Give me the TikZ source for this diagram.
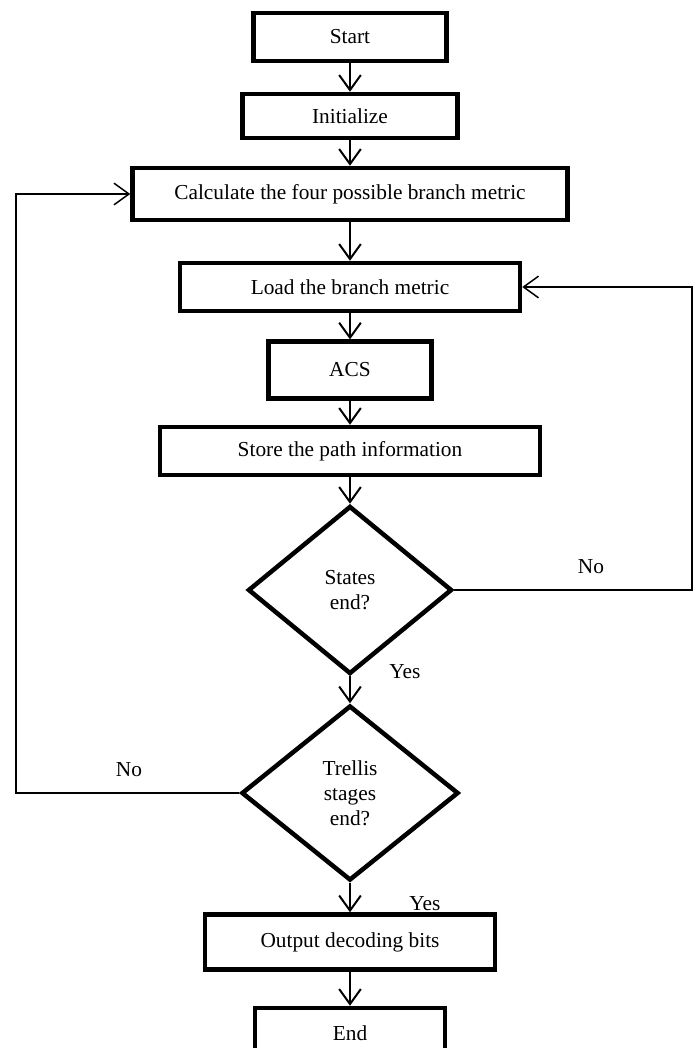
\documentclass[tikz,border=0pt]{standalone}
\usepackage{fontspec}
\setmainfont{Liberation Serif}
\usepackage{tikz}
\usetikzlibrary{positioning}
\usetikzlibrary{shapes,shapes.geometric,arrows.meta}
\tikzstyle{novertex} = [draw=none, fill=none, text centered, font=\fontsize{12.8}{15}\selectfont]
\tikzstyle{process}  = [rectangle, draw, line width=2.7pt, text centered, inner sep=0pt, font=\fontsize{12.8}{15}\selectfont]
\tikzstyle{decision} = [diamond, draw, line width=2.7pt, align=center, inner sep=0pt, font=\fontsize{12.8}{15}\selectfont]
\tikzstyle{flow}  = [draw, line width=1.2pt, ->]
\tikzstyle{loop}  = [draw, line width=0.9pt, ->]

\begin{document}
\begin{tikzpicture}[>={Straight Barb[length=9pt,width=13pt]}]
	\useasboundingbox (-210pt,22.2pt) rectangle (206.4pt,-606.6pt);

	% place nodes
	\node [process, minimum width=116pt, minimum height=29pt]                                  (N0) {Start};
	\node [process, below of=N0, node distance=47.4pt, minimum width=129pt, minimum height=26.4pt] (N1) {Initialize};
	\node [process, below of=N1, node distance=46.8pt, minimum width=261pt, minimum height=31.2pt] (N2) {Calculate the four possible branch metric};
	\node [process, below of=N2, node distance=55.8pt, minimum width=204pt, minimum height=28.8pt] (N3) {Load the branch metric};
	\node [process, below of=N3, node distance=49.8pt, minimum width=98pt, minimum height=34pt]    (N4) {ACS};
	\node [process, below of=N4, node distance=48.6pt, minimum width=228pt, minimum height=28.8pt] (N5) {Store the path information};
	\node [decision, below of=N5, node distance=83.4pt, minimum width=122.4pt, minimum height=100.8pt] (N6) {States\\end?};
	\node [decision, below of=N6, node distance=121.8pt, minimum width=130.2pt, minimum height=105pt]  (N7) {Trellis\\stages\\end?};
	\node [process, below of=N7, node distance=89.4pt, minimum width=174pt, minimum height=33pt]   (N8) {Output decoding bits};
	\node [process, below of=N8, node distance=54.6pt, minimum width=114pt, minimum height=30pt]   (N9) {End};

	% loop corners
	\coordinate (R) at (205.2pt,0);
	\coordinate (L) at (-200.4pt,0);

	% labels
	\node [novertex] (no1)  at ([xshift=144.6pt, yshift=13.8pt]N6.center) {No};
	\node [novertex] (yes1) at ([xshift=33pt, yshift=3pt]N6.south)        {Yes};
	\node [novertex] (no2)  at ([xshift=-132.6pt, yshift=13.8pt]N7.center) {No};
	\node [novertex] (yes2) at ([xshift=45pt, yshift=-12.6pt]N7.south)    {Yes};

	% draw edges
	\path [flow] (N0) -- (N1);
	\path [flow] (N1) -- (N2);
	\path [flow] (N2) -- (N3);
	\path [flow] (N3) -- (N4);
	\path [flow] (N4) -- (N5);
	\path [flow] (N5) -- (N6);
	\path [flow] (N6) -- (N7);
	\path [flow] (N7) -- (N8);
	\path [flow] (N8) -- (N9);
	\path [loop] (N6.east) -| (R |- N3.east) -- (N3.east);
	\path [loop] (N7.west) -| (L |- N2.west) -- (N2.west);
\end{tikzpicture}
\end{document}
